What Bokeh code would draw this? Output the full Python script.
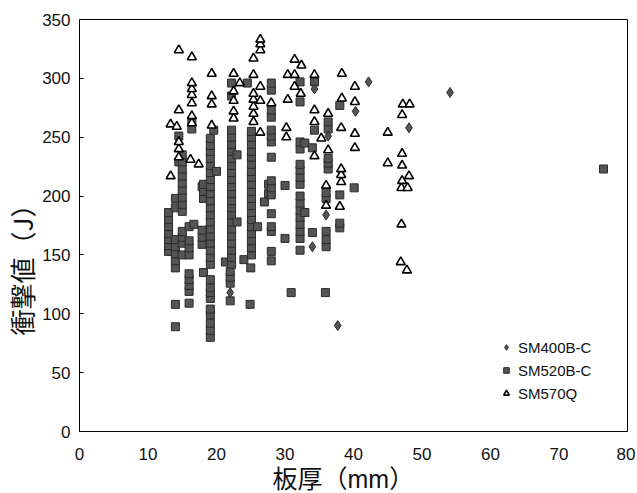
from bokeh.plotting import figure
from bokeh.models import Legend, LegendItem, FixedTicker, Range1d, Title
from bokeh.embed import file_html
from bokeh.resources import INLINE

# ---------------- data ----------------
x_ticks = [0, 10, 20, 30, 40, 50, 60, 70, 80]
y_ticks = [0, 50, 100, 150, 200, 250, 300, 350]
series_names = ["SM400B-C", "SM520B-C", "SM570Q"]
x_title = "板厚（mm）"
y_title = "衝撃値（J）"

# SM400B-C (diamonds)
sm400_x = [22.0, 34.0, 34.3, 36.0, 36.3, 37.7, 40.3, 42.2, 48.1, 54.1]
sm400_y = [118, 157, 291, 184, 251, 90, 272, 297, 258, 288]

# SM520B-C (squares)
sm520_x = (
    [13.0] * 7 + [14.0] * 9 + [14.5] * 2 + [15.0] * 13 + [16.0] * 9 + [16.4] * 2 + [16.7]
    + [17.9] * 4 + [18.1] * 4 + [19.1] * 28 + [19.6] + [20.0] + [21.3] + [22.0] * 4
    + [22.2] * 22 + [23.0] * 2 + [24.0] + [24.5] + [24.9] + [25.0] + [25.1] * 19
    + [26.0] + [27.0] + [27.6] * 2 + [28.0] * 16 + [30.0] * 2 + [30.9] + [32.2] * 16
    + [32.9] * 2 + [34.0] * 2 + [34.3] * 2 + [35.9] + [36.0] * 5 + [36.3] * 5
    + [38.0] * 4 + [40.1] + [76.5]
)
sm520_y = (
    [153, 158, 163, 168, 174, 180, 186]
    + [139, 145, 151, 157, 163, 190, 198, 108, 89]
    + [229, 251]
    + [150, 160, 165, 170, 187, 193, 199, 205, 211, 217, 223, 229, 235]
    + [109, 119, 124, 129, 134, 150, 156, 162, 174]
    + [257, 264]
    + [176]
    + [159, 165, 171, 208]
    + [198, 204, 210, 135]
    + [80, 86, 92, 99, 104, 113, 118, 122, 129, 142, 148, 154, 160, 166, 172, 178, 184,
       190, 196, 202, 208, 214, 220, 226, 232, 238, 243, 249]
    + [256]
    + [221]
    + [144]
    + [111, 126, 131, 136]
    + [142, 148, 154, 160, 166, 172, 178, 184, 190, 196, 202, 208, 214, 220, 226, 232,
       238, 244, 250, 256, 285, 296]
    + [178, 235]
    + [146]
    + [296]
    + [108]
    + [139]
    + [150, 156, 162, 168, 174, 180, 186, 192, 198, 204, 210, 216, 221, 227, 233, 238,
       244, 250, 255]
    + [174]
    + [195]
    + [202, 210]
    + [145, 153, 170, 174, 185, 201, 207, 213, 233, 246, 251, 256, 267, 273, 290, 296]
    + [164, 209]
    + [118]
    + [154, 164, 170, 176, 182, 188, 194, 200, 210, 216, 222, 227, 240, 246, 280, 297]
    + [186, 245]
    + [169, 241]
    + [256, 297]
    + [118]
    + [157, 163, 170, 198, 203]
    + [223, 228, 232, 257, 263]
    + [173, 177, 201, 277]
    + [207]
    + [223]
)

# SM570Q (open triangles)
sm570_x = (
    [13.3] * 2 + [14.2] + [14.5] * 5 + [16.2] + [16.4] * 7 + [17.4] + [19.3] * 4
    + [22.5] * 5 + [23.4] + [25.4] * 7 + [26.4] * 6 + [28.0] + [30.2] * 2 + [30.4] * 2
    + [31.4] * 3 + [32.3] + [32.4] + [34.3] * 4 + [35.3] + [36.3] * 2 + [36.0] * 2
    + [38.0] + [38.2] * 4 + [38.3] * 2 + [40.2] * 4 + [45.0] * 2 + [47.0] * 2 + [46.9]
    + [47.8] + [47.1] * 4 + [47.2] + [48.2] + [48.1] + [47.9]
)
sm570_y = (
    [217, 261] + [259] + [233, 240, 246, 273, 324] + [231]
    + [262, 268, 279, 286, 291, 296, 318] + [227] + [260, 278, 285, 304]
    + [266, 272, 281, 289, 304] + [296] + [263, 270, 276, 282, 287, 303, 317]
    + [254, 281, 293, 324, 329, 333] + [279] + [250, 258] + [282, 303]
    + [293, 303, 316] + [287] + [311] + [234, 263, 273, 303] + [249] + [239, 270]
    + [192, 209] + [191] + [212, 218, 223, 258] + [283, 304] + [241, 253, 280, 293]
    + [228, 254] + [176, 207] + [144] + [137] + [213, 226, 236, 269] + [278] + [278]
    + [217] + [207]
)

# ---------------- figure ----------------
p = figure(width=635, height=493, output_backend="svg", toolbar_location=None,
           x_range=Range1d(0, 80), y_range=Range1d(0, 350),
           min_border_left=77, min_border_right=8, min_border_top=19,
           min_border_bottom=62)

p.xgrid.visible = False
p.ygrid.visible = False
p.outline_line_color = "black"
p.outline_line_alpha = 1.0
p.outline_line_width = 1
p.background_fill_color = "white"
p.border_fill_color = "white"

tick_font = "Liberation Sans"
title_font = "Liberation Sans, Noto Sans CJK JP"
cjk_font = "Noto Sans CJK JP"

p.xaxis.ticker = FixedTicker(ticks=x_ticks)
p.yaxis.ticker = FixedTicker(ticks=y_ticks)
for ax in (p.xaxis, p.yaxis):
    ax.axis_line_color = "black"
    ax.minor_tick_line_color = None
    ax.major_label_text_font = tick_font
    ax.major_label_text_font_size = "17px"
    ax.major_label_text_color = "#111111"

p.xaxis.major_tick_line_color = None
p.xaxis.major_label_standoff = 10

p.yaxis.major_tick_in = 4
p.yaxis.major_tick_out = 0
p.yaxis.major_label_standoff = 9

# axis titles placed as side titles (offset along the axis)
p.add_layout(Title(text=x_title, align="left", offset=193, standoff=0,
                   text_font=title_font, text_font_size="25px",
                   text_font_style="normal", text_color="#111111"), "below")
p.add_layout(Title(text=y_title, align="left", offset=96, standoff=0,
                   text_font=cjk_font, text_font_size="26px",
                   text_font_style="normal", text_color="#111111"), "left")

r520 = p.scatter(sm520_x, sm520_y, marker="square", size=8,
                 fill_color="#555555", line_color="#2a2a2a", line_width=1)
r570 = p.scatter(sm570_x, sm570_y, marker="triangle", size=9,
                 fill_color="white", line_color="black", line_width=1.6)
r400 = p.scatter(sm400_x, sm400_y, marker="diamond", size=10,
                 fill_color="#555555", line_color="#2a2a2a", line_width=1)

legend = Legend(items=[
    LegendItem(label=series_names[0], renderers=[r400]),
    LegendItem(label=series_names[1], renderers=[r520]),
    LegendItem(label=series_names[2], renderers=[r570]),
], location=(420, 28))
legend.padding = 0
legend.margin = 0
legend.spacing = 3
legend.glyph_width = 14
legend.glyph_height = 20
legend.label_height = 20
legend.label_standoff = 5
legend.label_text_font = tick_font
legend.label_text_font_size = "15px"
legend.label_text_color = "#111111"
legend.border_line_alpha = 0
legend.background_fill_alpha = 0
p.add_layout(legend, "center")

open("out.html", "w").write(file_html(p, INLINE))
